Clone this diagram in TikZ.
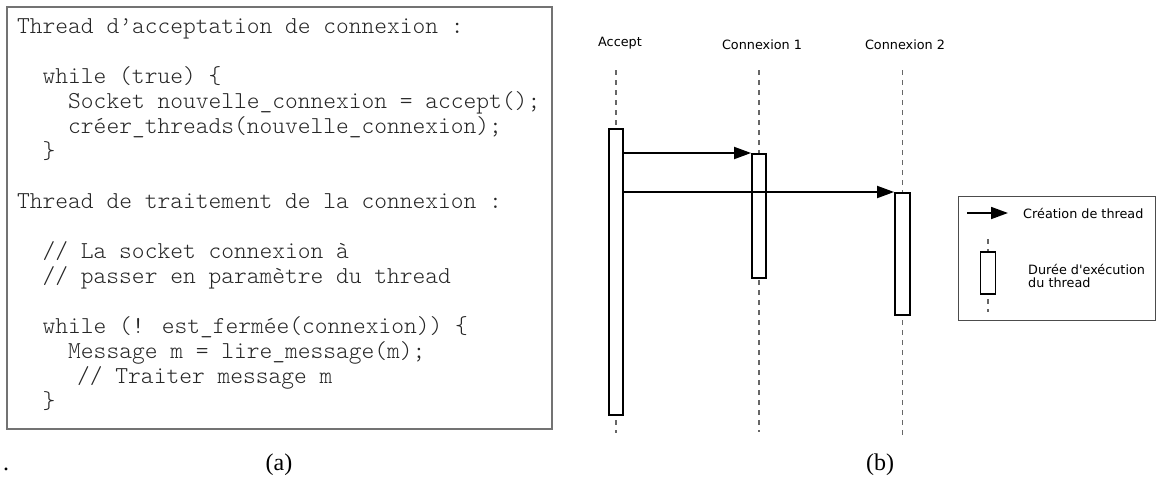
\documentclass[tikz,border=0pt]{standalone}
\usepackage{fontspec}
\setmainfont{Liberation Serif}
\newcommand\codefont{\fontfamily{lmtt}\fontseries{l}\selectfont}
\newfontfamily\seqfont{DejaVu Sans}
\usetikzlibrary{arrows.meta}

\begin{document}
\begin{tikzpicture}[x=1pt,y=-1pt,
    code/.style={font=\codefont\fontsize{24.3}{25}\selectfont,text=black!85,align=left,inner sep=0pt},
    lifeline/.style={draw=black!60,line width=1.3pt,dash pattern=on 5pt off 5pt},
    bar/.style={draw,fill=white,line width=1.8pt,minimum width=14pt,inner sep=0pt,anchor=north},
    msg/.style={line width=1.8pt,-{Triangle[length=17pt,width=12pt]}},
    lbl/.style={font=\seqfont\fontsize{12.8}{13.5}\selectfont,inner sep=0pt},
    figcaption/.style={font=\fontsize{24}{28}\selectfont,inner sep=0pt}]
  \useasboundingbox (0,0) rectangle (1156,477);

  % (a) code of the two threads
  \draw [draw=black!55,line width=1.5pt] (7,7) rectangle (552,429);
  \node [code,anchor=base west] (code) at (17,408) {%
    Thread d’acceptation de connexion :\\[25pt]
    \phantom{xx}while (true) \{\\
    \phantom{xxxx}Socket nouvelle\_connexion = accept();\\
    \phantom{xxxx}créer\_threads(nouvelle\_connexion);\\
    \phantom{xx}\}\\[25pt]
    Thread de traitement de la connexion :\\[25pt]
    \phantom{xx}// La socket connexion à\\
    \phantom{xx}// passer en paramètre du thread\\[25pt]
    \phantom{xx}while (! est\_fermée(connexion)) \{\\
    \phantom{xxxx}Message m = lire\_message(m);\\
    \phantom{xxxx}\hspace*{9pt}// Traiter message m\\
    \phantom{xx}\}};

  % (b) sequence diagram
  \node [lbl] (acc) at (620,43) {Accept};
  \node [lbl] (cx1) at (762,45) {Connexion 1};
  \node [lbl] (cx2) at (905,45) {Connexion 2};
  \draw [lifeline] (616,70) -- ++(0,363);
  \draw [lifeline] (759,70) -- ++(0,362);
  \draw [lifeline] (902.5,70) -- ++(0,365);
  \node [bar,minimum height=286pt] (accbar) at (616,128) {};
  \node [bar,minimum height=124pt] (bar1) at (759,153) {};
  \node [bar,minimum height=122pt,minimum width=15pt] (bar2) at (902.5,192) {};
  \draw [msg] (accbar.east |- bar1.north west) -- (bar1.north west);
  \draw [msg] (accbar.east |- bar2.north west) -- (bar2.north west);

  % legend
  \draw [draw=black!70,line width=1pt] (958,196) rectangle (1155,320);
  \coordinate (lgfrom) at (967,213);
  \coordinate (lgto) at (1008,213);
  \draw [msg] (lgfrom) -- (lgto);
  \node [lbl,anchor=west] (lgmsg) at (1023,213) {Création de thread};
  \draw [lifeline] (988,239) -- ++(0,73);
  \node [bar,minimum height=42pt,minimum width=15pt] (lgbar) at (988,251) {};
  \node [lbl,anchor=west,align=left] (lgbartext) at (1028,276) {Durée d\textquotesingle exécution\\du thread};

  % captions
  \node [figcaption,anchor=base west] (dot) at (3,470) {.};
  \node [figcaption,anchor=base] (capa) at (279,470) {(a)};
  \node [figcaption,anchor=base] (capb) at (880,470) {(b)};
\end{tikzpicture}
\end{document}
